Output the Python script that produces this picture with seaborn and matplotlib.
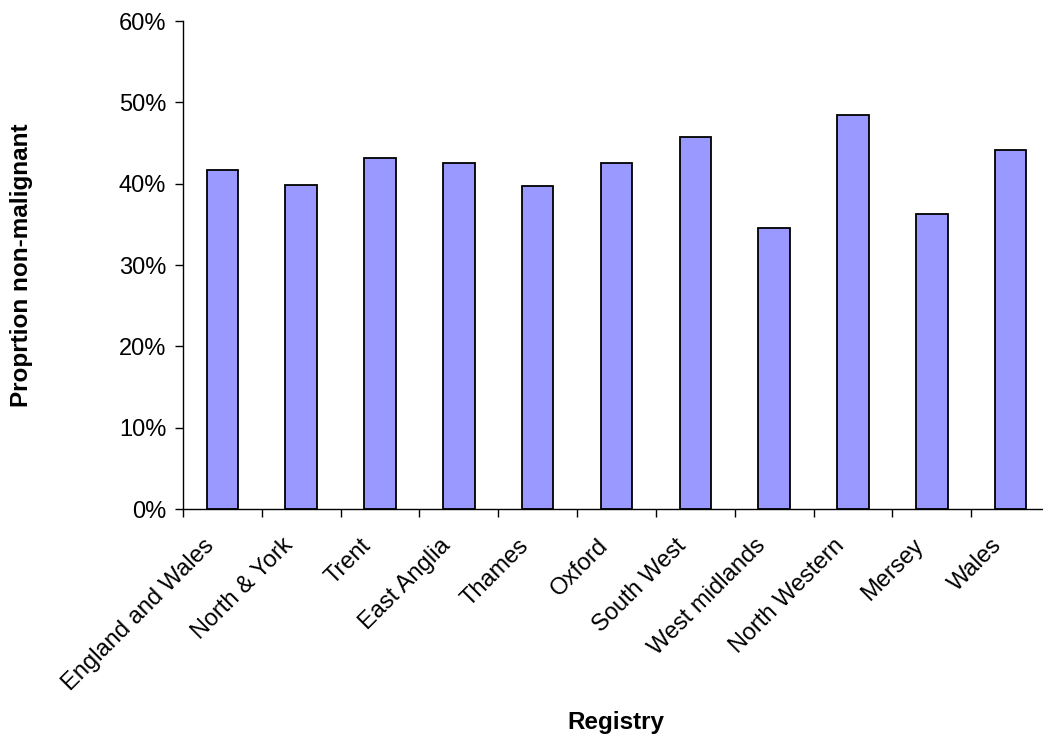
import pandas as pd
import matplotlib
matplotlib.use("Agg")
import matplotlib.pyplot as plt
import matplotlib.transforms as mtransforms
import seaborn as sns
from matplotlib.ticker import PercentFormatter, FixedLocator

# Data
registries = ['England and Wales', 'North & York', 'Trent', 'East Anglia', 'Thames',
              'Oxford', 'South West', 'West midlands', 'North Western', 'Mersey', 'Wales']
prop_non_malignant = [0.417, 0.398, 0.432, 0.425, 0.397, 0.426, 0.457, 0.346, 0.484, 0.363, 0.441]

df = pd.DataFrame({'Registry': registries, 'Proportion': prop_non_malignant})

sns.set_style("white")
plt.rcParams['font.family'] = ['Liberation Sans', 'DejaVu Sans']
for key in ['text.color', 'axes.labelcolor', 'xtick.color', 'ytick.color']:
    plt.rcParams[key] = 'black'

fig = plt.figure(figsize=(10.43, 7.40), dpi=100)
# axes run slightly past the right edge, as in the original
ax = fig.add_axes([183 / 1043, (740 - 509) / 740, 867 / 1043, 488 / 740])

sns.barplot(data=df, x='Registry', y='Proportion', color='#9999ff',
            edgecolor='black', linewidth=1.3, width=0.4, saturation=1, ax=ax)

ax.set_xlim(-0.5, len(registries) - 0.5)
ax.set_ylim(0, 0.6)
ax.yaxis.set_major_formatter(PercentFormatter(1.0, decimals=0))
ax.set_yticks([0, 0.1, 0.2, 0.3, 0.4, 0.5, 0.6])

# ticks between categories (Excel style), labels at centres
ax.xaxis.set_minor_locator(FixedLocator([i - 0.5 for i in range(len(registries) + 1)]))
ax.tick_params(axis='x', which='major', length=0, pad=24, labelsize=17)
ax.tick_params(axis='x', which='minor', length=6, width=1, color='black', direction='out')
ax.tick_params(axis='y', length=6, width=1, color='black', direction='out', labelsize=17, pad=6)
ax.tick_params(bottom=True, left=True, which='both')
shift = mtransforms.ScaledTranslation(-12 / 100, 0, fig.dpi_scale_trans)
for lbl in ax.get_xticklabels():
    lbl.set_rotation(45)
    lbl.set_ha('right')
    lbl.set_va('center')
    lbl.set_rotation_mode('anchor')
    lbl.set_transform(lbl.get_transform() + shift)

for side in ['top', 'right']:
    ax.spines[side].set_visible(False)
for side in ['left', 'bottom']:
    ax.spines[side].set_color('black')
    ax.spines[side].set_linewidth(1)

ax.set_xlabel('Registry', fontsize=17.5, fontweight='bold')
ax.set_ylabel('Proprtion non-malignant', fontsize=17.5, fontweight='bold')
ax.xaxis.set_label_coords((616 - 183) / 867, -(723 - 509) / 488)
ax.yaxis.set_label_coords(-(183 - 22) / 867, 0.5)
ax.xaxis.label.set_va('center')
ax.yaxis.label.set_va('center')

fig.savefig('out.png', dpi=100)
